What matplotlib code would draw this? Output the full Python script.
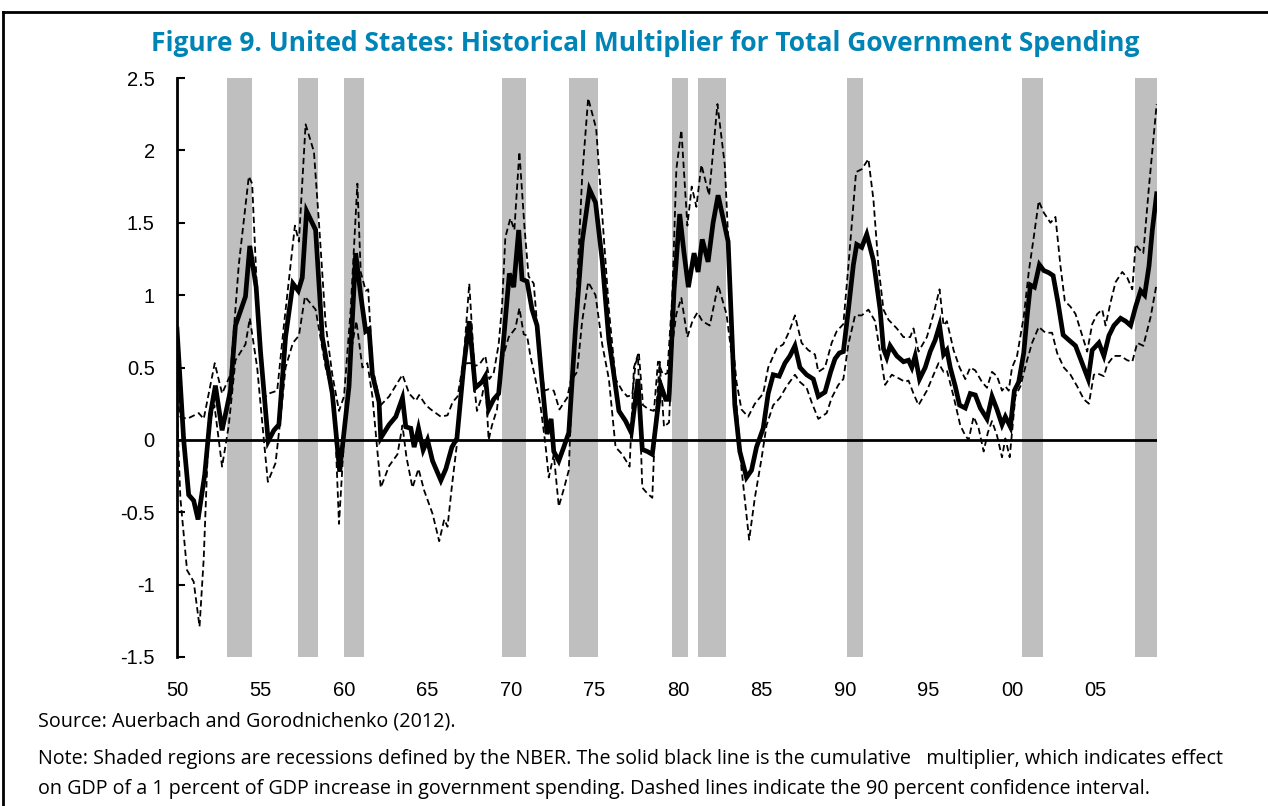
import matplotlib
matplotlib.use("Agg")
import matplotlib.pyplot as plt
from matplotlib.lines import Line2D

# Cumulative multiplier (solid line)
solid_years = [1950.0, 1950.4, 1950.7, 1951.0, 1951.26, 1951.66, 1952.0, 1952.3, 1952.7, 1953.2,
               1953.5, 1954.1, 1954.36, 1954.74, 1955.0, 1955.46, 1955.8, 1956.1, 1956.5, 1956.94,
               1957.26, 1957.5, 1957.76, 1958.3, 1958.7, 1959.3, 1959.74, 1960.3, 1960.7, 1961.0,
               1961.3, 1961.5, 1961.7, 1962.1, 1962.2, 1962.7, 1963.1, 1963.5, 1963.7, 1964.0,
               1964.2, 1964.46, 1964.74, 1965.0, 1965.3, 1965.8, 1966.1, 1966.46, 1966.76, 1967.16,
               1967.5, 1967.86, 1968.26, 1968.46, 1968.66, 1968.96, 1969.26, 1969.6, 1969.9, 1970.16,
               1970.46, 1970.66, 1970.96, 1971.26, 1971.56, 1971.86, 1972.16, 1972.4, 1972.56, 1972.86,
               1973.16, 1973.46, 1973.86, 1974.26, 1974.7, 1975.06, 1975.46, 1975.86, 1976.16, 1976.46,
               1976.86, 1977.2, 1977.6, 1977.86, 1978.16, 1978.46, 1978.96, 1979.26, 1979.46, 1979.76,
               1980.1, 1980.35, 1980.62, 1980.96, 1981.2, 1981.45, 1981.8, 1982.1, 1982.4, 1983.0,
               1983.4, 1983.7, 1984.1, 1984.4, 1984.7, 1985.1, 1985.4, 1985.7, 1986.06, 1986.4,
               1986.7, 1987.0, 1987.3, 1987.7, 1988.1, 1988.4, 1988.8, 1989.14, 1989.4, 1989.66,
               1989.9, 1990.2, 1990.5, 1990.7, 1991.0, 1991.3, 1991.7, 1992.1, 1992.3, 1992.5,
               1992.7, 1993.1, 1993.5, 1993.8, 1994.0, 1994.2, 1994.46, 1994.8, 1995.1, 1995.4,
               1995.66, 1995.9, 1996.1, 1996.3, 1996.6, 1996.86, 1997.2, 1997.5, 1997.8, 1998.1,
               1998.5, 1998.8, 1999.1, 1999.4, 1999.6, 1999.9, 2000.14, 2000.4, 2000.7, 2000.9,
               2001.1, 2001.34, 2001.64, 2001.9, 2002.2, 2002.46, 2002.75, 2003.06, 2003.4, 2003.8,
               2004.2, 2004.56, 2004.8, 2005.2, 2005.5, 2005.8, 2006.1, 2006.5, 2006.8, 2007.1,
               2007.4, 2007.7, 2007.94, 2008.2, 2008.4, 2008.66]
solid_vals = [0.765, 0.0, -0.38, -0.42, -0.55, -0.24, 0.18, 0.375, 0.066, 0.34,
              0.79, 0.99, 1.34, 1.055, 0.61, -0.01, 0.066, 0.105, 0.71, 1.08,
              1.03, 1.12, 1.58, 1.45, 0.71, 0.32, -0.22, 0.37, 1.29, 1.0,
              0.75, 0.765, 0.45, 0.26, 0.013, 0.105, 0.16, 0.29, 0.09, 0.08,
              -0.05, 0.08, -0.07, 0.0, -0.145, -0.28, -0.2, -0.05, 0.01, 0.5,
              0.82, 0.36, 0.4, 0.44, 0.21, 0.28, 0.32, 0.75, 1.15, 1.055,
              1.45, 1.11, 1.095, 0.9, 0.79, 0.4, 0.04, 0.145, -0.08, -0.145,
              -0.05, 0.05, 0.77, 1.37, 1.73, 1.64, 1.24, 0.69, 0.45, 0.2,
              0.13, 0.05, 0.42, -0.066, -0.08, -0.1, 0.38, 0.28, 0.28, 1.03,
              1.56, 1.3, 1.055, 1.29, 1.16, 1.385, 1.23, 1.5, 1.69, 1.37,
              0.24, -0.08, -0.26, -0.21, -0.05, 0.08, 0.32, 0.45, 0.44, 0.53,
              0.58, 0.65, 0.5, 0.45, 0.42, 0.30, 0.33, 0.47, 0.56, 0.6,
              0.61, 0.9, 1.21, 1.35, 1.33, 1.42, 1.24, 0.9, 0.63, 0.57,
              0.65, 0.58, 0.54, 0.55, 0.5, 0.58, 0.42, 0.5, 0.61, 0.69,
              0.79, 0.59, 0.62, 0.5, 0.37, 0.24, 0.22, 0.32, 0.31, 0.22,
              0.145, 0.30, 0.21, 0.105, 0.16, 0.09, 0.34, 0.4, 0.6, 0.85,
              1.07, 1.055, 1.21, 1.17, 1.155, 1.135, 0.95, 0.725, 0.69, 0.65,
              0.53, 0.42, 0.62, 0.67, 0.58, 0.72, 0.79, 0.84, 0.82, 0.79,
              0.92, 1.03, 1.0, 1.2, 1.45, 1.70]

# Upper bound of the 90 percent confidence interval
upper_years = [1950.0, 1950.2, 1950.6, 1951.3, 1951.6, 1951.9, 1952.26, 1952.7, 1953.2, 1953.7,
               1954.3, 1954.5, 1954.8, 1955.2, 1955.5, 1956.0, 1956.4, 1957.06, 1957.3, 1957.7,
               1958.2, 1958.5, 1958.9, 1959.3, 1959.7, 1960.0, 1960.4, 1960.8, 1961.0, 1961.3,
               1961.45, 1961.7, 1962.2, 1962.7, 1963.5, 1963.9, 1964.3, 1964.5, 1964.9, 1965.2,
               1965.8, 1966.2, 1966.5, 1966.8, 1967.16, 1967.5, 1967.8, 1968.1, 1968.46, 1968.7,
               1968.96, 1969.26, 1969.46, 1969.66, 1969.96, 1970.2, 1970.5, 1970.8, 1971.05, 1971.36,
               1971.7, 1972.0, 1972.26, 1972.56, 1972.9, 1973.36, 1973.66, 1973.86, 1974.26, 1974.62,
               1975.1, 1975.46, 1975.86, 1976.26, 1976.66, 1976.96, 1977.26, 1977.46, 1977.66, 1977.9,
               1978.26, 1978.56, 1978.8, 1979.1, 1979.36, 1979.66, 1979.9, 1980.2, 1980.56, 1980.82,
               1981.1, 1981.4, 1981.86, 1982.36, 1982.8, 1983.0, 1983.2, 1983.5, 1983.8, 1984.2,
               1984.6, 1985.1, 1985.4, 1985.9, 1986.3, 1986.66, 1987.0, 1987.4, 1987.8, 1988.2,
               1988.4, 1988.8, 1989.2, 1989.5, 1989.9, 1990.2, 1990.66, 1991.0, 1991.4, 1991.7,
               1992.0, 1992.3, 1992.6, 1993.1, 1993.5, 1993.9, 1994.1, 1994.4, 1994.9, 1995.3,
               1995.66, 1995.9, 1996.1, 1996.5, 1996.86, 1997.2, 1997.5, 1997.8, 1998.2, 1998.5,
               1998.8, 1999.1, 1999.4, 1999.6, 1999.8, 2000.0, 2000.3, 2000.7, 2001.0, 2001.3,
               2001.6, 2001.9, 2002.3, 2002.6, 2002.9, 2003.16, 2003.5, 2003.8, 2004.2, 2004.5,
               2004.8, 2005.1, 2005.4, 2005.6, 2005.9, 2006.2, 2006.6, 2006.9, 2007.2, 2007.4,
               2007.6, 2007.86, 2008.2, 2008.66]
upper_vals = [0.3, 0.16, 0.145, 0.185, 0.145, 0.32, 0.53, 0.32, 0.45, 1.21,
              1.82, 1.77, 1.0, 0.29, 0.32, 0.34, 0.79, 1.48, 1.37, 2.18,
              1.99, 1.5, 0.8, 0.45, 0.2, 0.3, 0.9, 1.77, 1.16, 1.03,
              1.04, 0.5, 0.24, 0.3, 0.45, 0.32, 0.27, 0.31, 0.24, 0.21,
              0.16, 0.17, 0.26, 0.3, 0.55, 1.08, 0.51, 0.52, 0.58, 0.42,
              0.46, 0.66, 0.92, 1.4, 1.53, 1.45, 1.99, 1.48, 1.13, 1.08,
              0.6, 0.34, 0.35, 0.34, 0.21, 0.29, 0.45, 0.82, 1.82, 2.36,
              2.15, 1.56, 0.9, 0.42, 0.34, 0.3, 0.31, 0.53, 0.59, 0.24,
              0.21, 0.2, 0.54, 0.45, 0.46, 1.0, 1.87, 2.14, 1.48, 1.75,
              1.61, 1.9, 1.69, 2.32, 1.9, 1.4, 0.77, 0.4, 0.21, 0.16,
              0.25, 0.32, 0.5, 0.63, 0.66, 0.75, 0.86, 0.67, 0.62, 0.59,
              0.47, 0.5, 0.67, 0.75, 0.8, 1.2, 1.85, 1.87, 1.94, 1.66,
              1.2, 0.9, 0.83, 0.77, 0.71, 0.71, 0.77, 0.61, 0.71, 0.87,
              1.04, 0.79, 0.82, 0.62, 0.5, 0.42, 0.5, 0.48, 0.4, 0.36,
              0.47, 0.44, 0.34, 0.37, 0.34, 0.5, 0.58, 0.85, 1.16, 1.4,
              1.65, 1.57, 1.5, 1.54, 1.2, 0.96, 0.92, 0.87, 0.72, 0.61,
              0.8, 0.87, 0.9, 0.79, 0.95, 1.09, 1.16, 1.12, 1.04, 1.35,
              1.32, 1.29, 1.75, 2.32]

# Lower bound of the 90 percent confidence interval
lower_years = [1950.0, 1950.2, 1950.6, 1951.0, 1951.35, 1951.6, 1951.9, 1952.24, 1952.7, 1953.1,
               1953.5, 1954.1, 1954.36, 1954.8, 1955.2, 1955.44, 1955.9, 1956.2, 1956.5, 1956.94,
               1957.3, 1957.66, 1958.3, 1958.9, 1959.4, 1959.7, 1960.0, 1960.4, 1960.74, 1961.1,
               1961.4, 1961.7, 1962.2, 1962.7, 1963.2, 1963.5, 1963.74, 1964.1, 1964.46, 1964.8,
               1965.3, 1965.7, 1966.0, 1966.2, 1966.46, 1966.76, 1967.06, 1967.36, 1967.66, 1967.96,
               1968.26, 1968.46, 1968.66, 1968.86, 1969.16, 1969.46, 1969.86, 1970.26, 1970.5, 1970.76,
               1970.96, 1971.16, 1971.46, 1971.76, 1972.06, 1972.26, 1972.56, 1972.86, 1973.16, 1973.46,
               1973.66, 1973.96, 1974.26, 1974.62, 1975.06, 1975.46, 1975.86, 1976.26, 1976.66, 1977.1,
               1977.36, 1977.6, 1977.86, 1978.16, 1978.46, 1978.62, 1978.9, 1979.16, 1979.46, 1979.66,
               1979.9, 1980.2, 1980.56, 1980.86, 1981.16, 1981.46, 1981.9, 1982.4, 1982.9, 1983.2,
               1983.5, 1983.8, 1984.26, 1984.6, 1985.0, 1985.3, 1985.7, 1986.1, 1986.5, 1987.0,
               1987.3, 1987.7, 1988.0, 1988.4, 1988.9, 1989.2, 1989.6, 1989.9, 1990.2, 1990.6,
               1991.0, 1991.4, 1991.8, 1992.2, 1992.4, 1992.8, 1993.3, 1993.6, 1993.8, 1994.1,
               1994.4, 1994.9, 1995.3, 1995.6, 1995.9, 1996.1, 1996.5, 1996.9, 1997.2, 1997.4,
               1997.7, 1998.0, 1998.3, 1998.55, 1998.8, 1999.1, 1999.4, 1999.6, 1999.86, 2000.2,
               2000.5, 2000.9, 2001.2, 2001.6, 2002.0, 2002.4, 2002.7, 2003.1, 2003.5, 2003.9,
               2004.3, 2004.6, 2004.9, 2005.1, 2005.5, 2005.7, 2006.1, 2006.5, 2006.9, 2007.2,
               2007.5, 2007.86, 2008.3, 2008.66]
lower_vals = [0.2, -0.4, -0.9, -0.98, -1.29, -0.82, 0.1, 0.24, -0.185, 0.1,
              0.55, 0.66, 0.84, 0.5, 0.0, -0.29, -0.16, 0.15, 0.5, 0.67,
              0.72, 0.99, 0.9, 0.5, 0.29, -0.58, 0.0, 0.6, 0.82, 0.5,
              0.53, 0.3, -0.33, -0.18, -0.1, 0.1, -0.12, -0.33, -0.2, -0.35,
              -0.51, -0.7, -0.55, -0.6, -0.32, -0.03, 0.45, 0.53, 0.53, 0.2,
              0.3, 0.42, 0.0, 0.1, 0.21, 0.55, 0.71, 0.77, 0.91, 0.73,
              0.72, 0.58, 0.42, 0.24, -0.03, -0.26, -0.1, -0.46, -0.34, -0.21,
              0.42, 0.47, 0.82, 1.09, 1.0, 0.66, 0.42, -0.05, -0.1, -0.185,
              0.5, 0.59, -0.33, -0.37, -0.4, 0.08, 0.54, 0.09, 0.12, 0.66,
              0.87, 0.98, 0.71, 0.82, 0.88, 0.82, 0.79, 1.07, 0.87, 0.6,
              0.24, -0.2, -0.69, -0.4, -0.13, 0.1, 0.24, 0.29, 0.37, 0.45,
              0.4, 0.36, 0.26, 0.145, 0.185, 0.29, 0.38, 0.42, 0.66, 0.86,
              0.86, 0.9, 0.82, 0.53, 0.38, 0.45, 0.42, 0.4, 0.41, 0.32,
              0.24, 0.34, 0.45, 0.53, 0.47, 0.48, 0.3, 0.1, 0.03, 0.0,
              0.16, 0.08, -0.08, 0.05, 0.13, 0.03, -0.12, 0.01, -0.12, 0.3,
              0.37, 0.55, 0.67, 0.78, 0.74, 0.74, 0.6, 0.5, 0.45, 0.37,
              0.28, 0.25, 0.45, 0.46, 0.44, 0.52, 0.58, 0.58, 0.55, 0.54,
              0.67, 0.65, 0.85, 1.08]

# NBER recessions (shaded), start and end as decimal years on the chart's axis
rec_start = [1953.0, 1957.25, 1960.0, 1969.45, 1973.45, 1979.65, 1981.2, 1990.1, 2000.6, 2007.35]
rec_end = [1954.5, 1958.45, 1961.2, 1970.9, 1975.2, 1980.6, 1982.9, 1991.1, 2001.85, 2008.66]

tick_years = [1950, 1955, 1960, 1965, 1970, 1975, 1980, 1985, 1990, 1995, 2000, 2005]
tick_labels = ['50', '55', '60', '65', '70', '75', '80', '85', '90', '95', '00', '05']

fig = plt.figure(figsize=(12.68, 8.06), dpi=100)
ax = fig.add_axes([177 / 1268, 1 - 657 / 806, 980 / 1268, 579 / 806])

for s, e in zip(rec_start, rec_end):
    ax.axvspan(s, e, color='#BFBFBF', lw=0, zorder=1)

ax.axhline(0, color='black', lw=2, zorder=2)
ax.plot(upper_years, upper_vals, color='black', lw=1.3, dashes=(3.5, 2), zorder=3)
ax.plot(lower_years, lower_vals, color='black', lw=1.3, dashes=(3.5, 2), zorder=3)
ax.plot(solid_years, solid_vals, color='black', lw=3.4, solid_joinstyle='miter', zorder=4)

ax.set_xlim(1950.0, 2008.68)
ax.set_ylim(-1.5, 2.5)
ax.set_yticks([-1.5, -1, -0.5, 0, 0.5, 1, 1.5, 2, 2.5])
ax.set_yticklabels(['-1.5', '-1', '-0.5', '0', '0.5', '1', '1.5', '2', '2.5'])
ax.set_xticks(tick_years)
ax.set_xticklabels(tick_labels)

for sp in ['top', 'right', 'bottom']:
    ax.spines[sp].set_visible(False)
ax.spines['left'].set_linewidth(2)
ax.tick_params(axis='y', direction='in', length=6, width=1.5, pad=16,
               labelsize=14.5, labelfontfamily='Liberation Sans')
ax.tick_params(axis='x', length=0, pad=17, labelsize=14.5, labelfontfamily='Liberation Sans')

fig.text(0.509, 0.946, 'Figure 9. United States: Historical Multiplier for Total Government Spending',
         ha='center', va='center', fontsize=19, fontweight='bold', color='#0083B5',
         family='Open Sans')

note_font = dict(family='Open Sans', fontsize=14.2, color='black', ha='left', va='center')
fig.text(38 / 1268, 1 - 722 / 806, 'Source: Auerbach and Gorodnichenko (2012).', **note_font)
fig.text(38 / 1268, 1 - 759 / 806,
         'Note: Shaded regions are recessions defined by the NBER. The solid black line is the cumulative   '
         'multiplier, which indicates effect', **note_font)
fig.text(38 / 1268, 1 - 789 / 806,
         'on GDP of a 1 percent of GDP increase in government spending. Dashed lines indicate the 90 percent '
         'confidence interval.', **note_font)

# frame round the figure (top and left edges are visible)
fig.add_artist(Line2D([3 / 1268, 1.0], [1 - 12 / 806, 1 - 12 / 806], color='black', lw=2))
fig.add_artist(Line2D([3 / 1268, 3 / 1268], [0.0, 1 - 12 / 806], color='black', lw=2))

fig.savefig('out.png', dpi=100)
